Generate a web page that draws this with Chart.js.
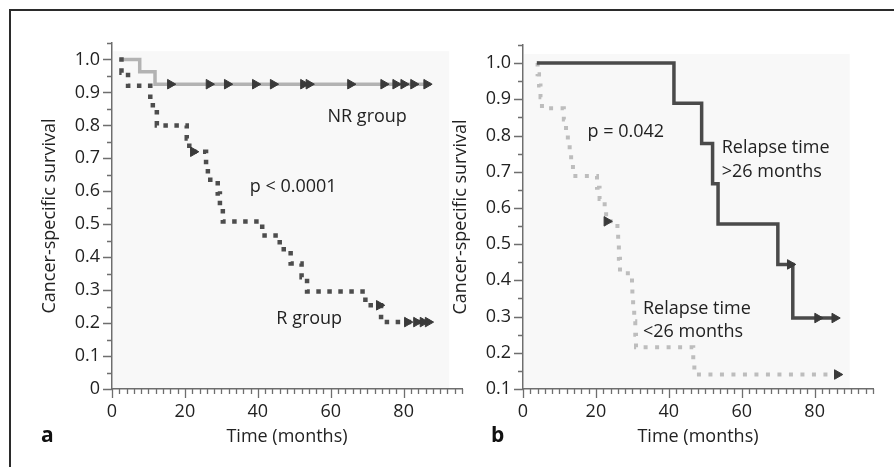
<!DOCTYPE html>
<html><head><meta charset="utf-8">
<script src="https://cdn.jsdelivr.net/npm/chart.js@4/dist/chart.umd.min.js"></script>
<style>
html,body{margin:0;padding:0;background:#fff;width:894px;height:467px;overflow:hidden;font-family:"Open Sans",sans-serif;}
.frame{position:absolute;left:9px;top:9px;width:885px;height:458px;border-top:2px solid #2b2b2b;border-left:2px solid #2b2b2b;box-sizing:border-box}
.panel{position:absolute;top:0;height:467px}
.lbl{position:absolute;font:bold 21px/21px "Open Sans";color:#111}
</style></head><body>
<div class="frame"></div>
<div class="panel" style="left:0;width:470px"><canvas id="ca" width="470" height="467"></canvas></div>
<div class="panel" style="left:420px;width:474px"><canvas id="cb" width="474" height="467"></canvas></div>
<div class="lbl" style="left:41px;top:424px">a</div>
<div class="lbl" style="left:491px;top:424px">b</div>
<script>
// ---------- Panel a data ----------
const nrTime = [2, 7.6, 11.8, 87.5];
const nrSurv = [1.0, 0.963, 0.925, 0.925];
const nrCensorTime = [16, 26.6, 31.6, 39.3, 44.2, 52.5, 54, 65.4, 74.5, 77.8, 80, 82.7, 86.3];
const nrCensorSurv = [0.925, 0.925, 0.925, 0.925, 0.925, 0.925, 0.925, 0.925, 0.925, 0.925, 0.925, 0.925, 0.925];

const rTime = [2, 2.6, 4.4, 10.5, 11.2, 12.3, 20.5, 21.2, 25.8, 26.3, 29.0, 29.6, 30.4, 41.2, 46.0, 49.0, 52.0, 53.5, 69.5, 73.8, 87.0];
const rSurv = [1.0, 0.96, 0.92, 0.88, 0.84, 0.80, 0.76, 0.72, 0.678, 0.635, 0.593, 0.551, 0.508, 0.466, 0.424, 0.381, 0.339, 0.296, 0.254, 0.203, 0.203];
const rCensorTime = [22.3, 73.3, 81, 83.5, 85.3, 86.7];
const rCensorSurv = [0.72, 0.254, 0.203, 0.203, 0.203, 0.203];

// ---------- Panel b data ----------
const longTime = [3.8, 41.4, 49.0, 52.0, 53.5, 69.9, 74.0, 86.0];
const longSurv = [1.0, 0.889, 0.778, 0.667, 0.556, 0.444, 0.296, 0.296];
const longCensorTime = [73.3, 80.8, 85.5];
const longCensorSurv = [0.444, 0.296, 0.296];

const shortTime = [3.8, 4.0, 4.4, 4.8, 5.2, 11.2, 11.8, 12.3, 12.8, 13.2, 13.7, 20.3, 21.0, 22.4, 22.8, 25.9, 26.1, 26.3, 26.6, 29.9, 30.0, 30.2, 30.5, 30.8, 31.0, 46.7, 47.0, 86.0];
const shortSurv = [1.0, 0.969, 0.938, 0.906, 0.875, 0.844, 0.813, 0.781, 0.75, 0.719, 0.688, 0.656, 0.625, 0.594, 0.563, 0.53, 0.497, 0.46, 0.42, 0.387, 0.354, 0.32, 0.287, 0.25, 0.215, 0.175, 0.14, 0.14];
const shortCensorTime = [23.0, 86.2];
const shortCensorSurv = [0.563, 0.14];

const xTickLabels = [0, 20, 40, 60, 80];
const xTitle = 'Time (months)';
const yTitle = 'Cancer-specific survival';

// ---------- helpers ----------
const pts = (t, s) => t.map((v, i) => ({x: v, y: s[i]}));
Chart.defaults.font.family = '"Open Sans", sans-serif';
Chart.defaults.font.size = 18;
Chart.defaults.color = '#222';
const AXIS = '#6e6e6e';

const isMult = (v, step) => Math.abs(v / step - Math.round(v / step)) < 1e-6;

const tickPlugin = {
  id: 'ticksDraw',
  afterDraw(chart) {
    const {ctx, scales: {x, y}} = chart;
    ctx.save();
    ctx.strokeStyle = AXIS; ctx.lineWidth = 1.3;
    ctx.beginPath();
    for (const t of x.ticks) {
      const px = Math.round(x.getPixelForValue(t.value)) + 0.5;
      const len = xTickLabels.some(v => Math.abs(v - t.value) < 1e-6) ? 9 : 5;
      ctx.moveTo(px, y.bottom); ctx.lineTo(px, y.bottom + len);
    }
    for (const t of y.ticks) {
      const py = Math.round(y.getPixelForValue(t.value)) + 0.5;
      const len = isMult(t.value, 0.1) ? 9 : 5;
      ctx.moveTo(x.left, py); ctx.lineTo(x.left - len, py);
    }
    ctx.stroke();
    ctx.restore();
  }
};

const bgPlugin = {
  id: 'plotBg',
  beforeDatasetsDraw(chart, args, o) {
    const {ctx, scales: {x, y}} = chart;
    ctx.save();
    ctx.fillStyle = '#f8f8f8';
    const l = x.left + 1, r = x.getPixelForValue(o.xEnd);
    const t = y.getPixelForValue(o.yTop), b = y.bottom - 1;
    ctx.fillRect(l, t, r - l, b - t);
    ctx.restore();
  }
};

const textPlugin = {
  id: 'texts',
  afterDatasetsDraw(chart, args, o) {
    const {ctx, scales: {x, y}} = chart;
    ctx.save();
    ctx.font = '18px "Open Sans"';
    ctx.fillStyle = '#222';
    ctx.textBaseline = 'middle';
    for (const it of o.items) {
      ctx.textAlign = it.align || 'center';
      ctx.fillText(it.text, x.getPixelForValue(it.x), y.getPixelForValue(it.y));
    }
    ctx.restore();
  }
};

function makeChart(id, datasets, cfg) {
  return new Chart(document.getElementById(id), {
    type: 'scatter',
    data: {datasets},
    plugins: [bgPlugin, tickPlugin, textPlugin],
    options: {
      responsive: false, animation: false, devicePixelRatio: 1,
      layout: {padding: {left: 0, right: cfg.padRight, top: cfg.padTop, bottom: 0}},
      plugins: {legend: {display: false}, tooltip: {enabled: false},
        texts: {items: cfg.texts}, plotBg: {xEnd: cfg.bgEnd, yTop: cfg.bgTop}},
      scales: {
        x: {
          type: 'linear', min: 0, max: 96,
          afterFit: s => { s.height = cfg.xHeight; },
          border: {display: true, color: AXIS, width: 1.5},
          grid: {display: true, drawOnChartArea: false, drawTicks: true, tickLength: 9, tickColor: 'transparent'},
          ticks: {stepSize: 2, padding: 3, maxRotation: 0, autoSkip: false,
            callback: v => xTickLabels.some(t => Math.abs(t - v) < 1e-6) ? String(Math.round(v)) : ''},
          title: {display: true, text: xTitle, font: {size: 18}, padding: {top: 2, bottom: 19}}
        },
        y: {
          type: 'linear', min: cfg.yMin, max: 1.05,
          afterFit: s => { s.width = cfg.yWidth; },
          border: {display: true, color: AXIS, width: 1.5},
          grid: {display: true, drawOnChartArea: false, drawTicks: true, tickLength: 9, tickColor: 'transparent'},
          ticks: {stepSize: 0.05, padding: 3, autoSkip: false,
            callback: v => isMult(v, 0.1) ? (Math.abs(v) < 1e-9 ? '0' : v.toFixed(1)) : ''},
          title: {display: true, text: yTitle, font: {size: 18}, padding: {top: cfg.yTitlePad, bottom: 0}}
        }
      }
    }
  });
}

const censorStyle = {showLine: false, pointStyle: 'triangle', rotation: 90, pointRadius: 5.5,
  backgroundColor: '#3a3a3a', borderColor: '#3a3a3a', borderWidth: 1, order: 0};

makeChart('ca', [
  {data: pts(nrCensorTime, nrCensorSurv), ...censorStyle},
  {data: pts(rCensorTime, rCensorSurv), ...censorStyle},
  {data: pts(rTime, rSurv), showLine: true, stepped: true, pointRadius: 0,
    borderColor: '#4d4d4d', borderWidth: 4.5, borderDash: [4.5, 6.5], borderCapStyle: 'butt', order: 1},
  {data: pts(nrTime, nrSurv), showLine: true, stepped: true, pointRadius: 0,
    borderColor: '#b3b3b3', borderWidth: 3.5, order: 2}
], {
  padRight: 8, padTop: 43, xHeight: 78, yWidth: 112, yMin: 0, yTitlePad: 39,
  bgEnd: 92.5, bgTop: 1.025,
  texts: [
    {text: 'NR group', x: 70, y: 0.826},
    {text: 'p < 0.0001', x: 49.7, y: 0.612},
    {text: 'R group', x: 54.1, y: 0.214}
  ]
});

makeChart('cb', [
  {data: pts(longCensorTime, longCensorSurv), ...censorStyle},
  {data: pts(shortCensorTime, shortCensorSurv), ...censorStyle},
  {data: pts(longTime, longSurv), showLine: true, stepped: true, pointRadius: 0,
    borderColor: '#4a4a4a', borderWidth: 3.5, order: 1},
  {data: pts(shortTime, shortSurv), showLine: true, stepped: true, pointRadius: 0,
    borderColor: '#bdbdbd', borderWidth: 4, borderDash: [4, 7.5], borderCapStyle: 'butt', order: 2}
], {
  padRight: 21, padTop: 45, xHeight: 78, yWidth: 103, yMin: 0.1, yTitlePad: 30,
  bgEnd: 89.6, bgTop: 1.025,
  texts: [
    {text: 'p = 0.042', x: 28.2, y: 0.81},
    {text: 'Relapse time', x: 54.5, y: 0.765, align: 'left'},
    {text: '>26 months', x: 54.5, y: 0.70, align: 'left'},
    {text: 'Relapse time', x: 32.9, y: 0.32, align: 'left'},
    {text: '<26 months', x: 32.9, y: 0.257, align: 'left'}
  ]
});
</script>
</body></html>
